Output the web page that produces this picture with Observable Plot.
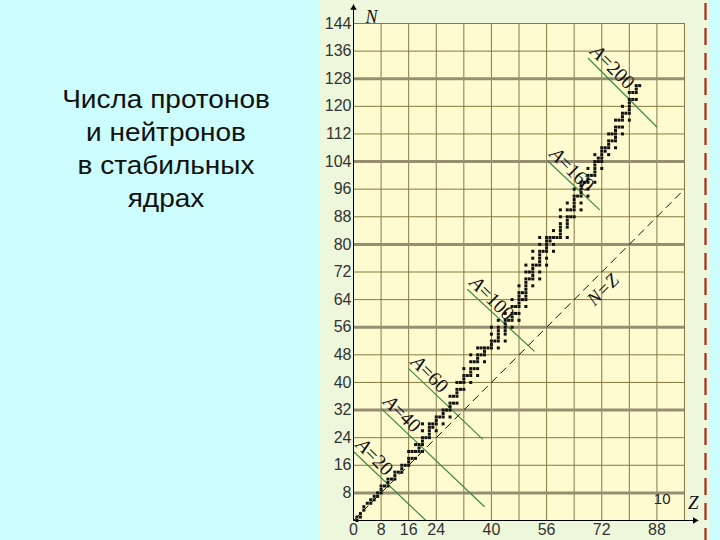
<!DOCTYPE html>
<html><head><meta charset="utf-8">
<script src="https://cdn.jsdelivr.net/npm/d3@7"></script>
<script src="https://cdn.jsdelivr.net/npm/@observablehq/plot@0.6"></script>
<style>
html,body{margin:0;padding:0;}
body{width:720px;height:540px;background:#ccfcfc;position:relative;overflow:hidden;font-family:"Liberation Sans",Arial,sans-serif;}
#title{position:absolute;left:0;top:83px;width:332px;text-align:center;font-size:25px;line-height:33px;color:#111;transform:scaleX(1.12);transform-origin:166px 0;}
#panel{position:absolute;left:320px;top:0;width:389px;height:540px;background:#edf7dc;}
#chart{position:absolute;left:320px;top:0;}
#edge{position:absolute;left:703px;top:0;}
</style></head><body>
<div id="panel"></div>
<div id="title">Числа протонов<br>и нейтронов<br>в стабильных<br>ядрах</div>
<div id="chart"></div>
<svg id="edge" width="6" height="540"><line x1="2.5" y1="0" x2="2.5" y2="540" stroke="#a8281e" stroke-width="2.2" stroke-dasharray="17 8" stroke-dashoffset="-3"/></svg>
<script>
// ---- data ----
const zExtent = [0, 96];
const nExtent = [0, 144];
const zGrid = [8, 16, 24, 32, 40, 48, 56, 64, 72, 80, 88, 96];
const nGrid = [8, 16, 24, 32, 40, 48, 56, 64, 72, 80, 88, 96, 104, 112, 120, 128, 136, 144];
const nMajor = [8, 32, 56, 80, 104, 128];
const zTickLabels = [0, 8, 16, 24, 40, 56, 72, 88];
const nTickLabels = [8, 16, 24, 32, 40, 48, 56, 64, 72, 80, 88, 96, 104, 112, 120, 128, 136, 144];
const axisZEnd = 100;
const axisNEnd = 149.5;

// stable nuclei: proton number Z and the neutron numbers N of its stable isotopes
const protonNumbers = [1,2,3,4,5,6,7,8,9,10,11,12,13,14,15,16,17,18,19,20,21,22,23,24,25,26,27,28,29,30,31,32,33,34,35,36,37,38,39,40,41,42,
  44,45,46,47,48,49,50,51,52,53,54,55,56,57,58,59,60,
  62,63,64,65,66,67,68,69,70,71,72,73,74,75,76,77,78,79,80,81,82,83];
const neutronNumbers = [
  [0,1],[1,2],[3,4],[5],[5,6],[6,7],[7,8],[8,9,10],[10],[10,11,12],
  [12],[12,13,14],[14],[14,15,16],[16],[16,17,18,20],[18,20],[18,20,22],[20,21,22],[20,22,23,24,26,28],
  [24],[24,25,26,27,28],[27,28],[26,28,29,30],[30],[28,30,31,32],[32],[30,32,33,34,36],[34,36],[34,36,37,38,40],
  [38,40],[38,40,41,42,44],[42],[40,42,43,44,46,48],[44,46],[42,44,46,47,48,50],[48,50],[46,48,49,50],[50],[50,51,52,54,56],
  [52],[50,52,53,54,55,56,58],
  [52,54,55,56,57,58,60],[58],[56,58,59,60,62,64],[60,62],[58,60,62,63,64,65,66,68],[64,66],
  [62,64,65,66,67,68,69,70,72,74],[70,72],[68,70,71,72,73,74,76,78],[74],[70,72,74,75,76,77,78,80,82],
  [78],[74,76,78,79,80,81,82],[81,82],[78,80,82,84],[82],[82,83,84,85,86,88,90],
  [82,85,86,87,88,90,92],[88,90],[88,90,91,92,93,94,96],[94],[90,92,94,95,96,97,98],[98],
  [94,96,98,99,100,102],[100],[98,100,101,102,103,104,106],[104,105],[102,104,105,106,107,108],[107,108],
  [106,108,109,110,112],[110,112],[108,110,111,112,113,114,116],[114,116],[112,114,116,117,118,120],[118],
  [116,118,119,120,121,122,124],[122,124],[122,124,125,126],[126]
];

// isobar lines A = const, endpoints
const isobarA = [20, 40, 60, 100, 160, 200];
const isobarZ1 = [0, 8, 16, 33, 56.2, 68];
const isobarN1 = [20, 32.5, 44, 67, 104.3, 134];
const isobarZ2 = [21, 38, 37.5, 52.5, 71.4, 88];
const isobarN2 = [0, 4, 23.5, 49, 90, 114];

const diagonalLabelAt = 69.6;

// ---- tables ----
const nuclides = protonNumbers.flatMap((z, i) => neutronNumbers[i].map(n => ({Z: z, N: n})));
const isobars = isobarA.map((a, i) => ({A: a, z1: isobarZ1[i], n1: isobarN1[i], z2: isobarZ2[i], n2: isobarN2[i]}));
const diagonal = [{z1: zExtent[0], z2: zExtent[1]}];

const serif = "Liberation Serif, Times New Roman, serif";

const chart = Plot.plot({
  width: 390, height: 540,
  marginLeft: 33, marginRight: 26, marginTop: 23, marginBottom: 20,
  x: {domain: zExtent},
  y: {domain: nExtent},
  style: {background: "transparent", fontFamily: "Liberation Sans, Arial, sans-serif", overflow: "visible"},
  marks: [
    Plot.frame({fill: "#fffbd0", stroke: null}),
    Plot.ruleX(zGrid, {stroke: "#857940", strokeWidth: 1}),
    Plot.ruleY(nGrid, {stroke: "#857940", strokeWidth: 1}),
    Plot.ruleY(nMajor, {stroke: "#978e72", strokeWidth: 3}),
    Plot.link(isobars, {x1: "z1", y1: "n1", x2: "z2", y2: "n2", stroke: "#3d8a45", strokeWidth: 1.2}),
    Plot.link(diagonal, {x1: "z1", y1: "z1", x2: "z2", y2: "z2", stroke: "#111", strokeWidth: 1, strokeDasharray: "8,5"}),
    Plot.dot(nuclides, {x: "Z", y: "N", symbol: "square", r: 1.7, fill: "#111"}),
    // axes
    Plot.link([0], {x1: 0, y1: 0, x2: axisZEnd, y2: 0, stroke: "#000", strokeWidth: 1}),
    Plot.link([0], {x1: 0, y1: 0, x2: 0, y2: axisNEnd, stroke: "#000", strokeWidth: 1}),
    Plot.dot([0], {x: axisZEnd - 1, y: 0, symbol: "triangle", r: 2.4, rotate: 90, fill: "#000"}),
    Plot.dot([0], {x: 0, y: axisNEnd - 1, symbol: "triangle", r: 2.4, fill: "#000"}),
    Plot.axisX({ticks: zTickLabels, tickSize: 0, tickPadding: 3, fontSize: 16, label: null, fill: "#333"}),
    Plot.axisY({ticks: nTickLabels, tickSize: 0, tickPadding: 2, fontSize: 16, label: null, fill: "#333"}),
    // labels
    Plot.text(isobars, {x: "z1", y: "n1", text: () => "A", rotate: 45, textAnchor: "start", dx: 5.7, dy: -9.9,
      fontFamily: serif, fontStyle: "italic", fontSize: 20, fill: "#111"}),
    Plot.text(isobars, {x: "z1", y: "n1", text: d => "=" + d.A, rotate: 45, textAnchor: "start", dx: 14.3, dy: -1.3,
      fontFamily: serif, fontSize: 20, fill: "#111"}),
    Plot.text(["N=Z"], {x: () => diagonalLabelAt, y: () => diagonalLabelAt, text: d => d, rotate: -45, dx: 9.5, dy: 9.5,
      fontFamily: serif, fontStyle: "italic", fontSize: 19, fill: "#111"}),
    Plot.text(["N"], {frameAnchor: "top-left", text: d => d, dx: 12, dy: -13, fontFamily: serif, fontStyle: "italic", fontSize: 18, fill: "#111"}),
    Plot.text(["Z"], {frameAnchor: "bottom-right", text: d => d, dx: 14, dy: -12, fontFamily: serif, fontStyle: "italic", fontSize: 19, fill: "#111"}),
    Plot.text(["10"], {frameAnchor: "bottom-right", text: d => d, dx: -14, dy: -17, fontSize: 15, fill: "#222"})
  ]
});
document.getElementById("chart").appendChild(chart);
</script>
</body></html>
